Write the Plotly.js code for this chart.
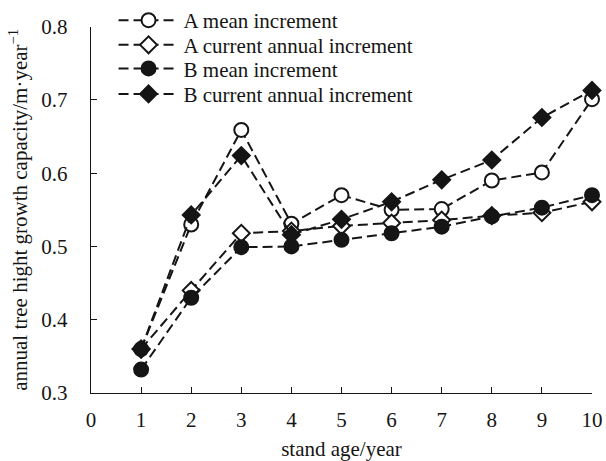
<!DOCTYPE html>
<html>
<head>
<meta charset="utf-8">
<script src="https://cdn.plot.ly/plotly-3.0.1.min.js"></script>
<style>
html,body{margin:0;padding:0;background:#fff;}
#chart{width:606px;height:461px;}
</style>
</head>
<body>
<div id="chart"></div>
<script>
var standAge = [1, 2, 3, 4, 5, 6, 7, 8, 9, 10];
var aMean    = [0.360, 0.530, 0.659, 0.531, 0.570, 0.550, 0.551, 0.590, 0.601, 0.701];
var aCurrent = [0.360, 0.440, 0.518, 0.521, 0.528, 0.532, 0.536, 0.542, 0.546, 0.561];
var bMean    = [0.332, 0.430, 0.499, 0.500, 0.509, 0.518, 0.527, 0.541, 0.553, 0.570];
var bCurrent = [0.360, 0.543, 0.624, 0.516, 0.537, 0.561, 0.591, 0.618, 0.676, 0.713];
var seriesNames = ['A mean increment', 'A current annual increment', 'B mean increment', 'B current annual increment'];
var xTicks = [0, 1, 2, 3, 4, 5, 6, 7, 8, 9, 10];
var yTicks = [0.3, 0.4, 0.5, 0.6, 0.7, 0.8];

var ink = '#151515';
var font = 'Liberation Serif';
var dash = '10px,5px';

function trace(y, name, symbol, fill, legendId) {
  return {
    x: standAge, y: y, name: name, type: 'scatter', mode: 'lines+markers',
    cliponaxis: false, legend: legendId,
    line: {color: ink, width: 2, dash: dash},
    marker: {symbol: symbol, size: symbol === 'circle' ? 14 : 13, color: fill,
             line: {color: ink, width: 2}}
  };
}

var data = [
  trace(aMean, seriesNames[0], 'circle', '#ffffff', 'legend'),
  trace(aCurrent, seriesNames[1], 'diamond', '#ffffff', 'legend2'),
  trace(bMean, seriesNames[2], 'circle', ink, 'legend3'),
  trace(bCurrent, seriesNames[3], 'diamond', ink, 'legend4')
];

function leg(yPaper) {
  return {x: 0.045, y: yPaper, xanchor: 'left', yanchor: 'middle',
          bgcolor: 'rgba(0,0,0,0)', borderwidth: 0,
          font: {family: font, size: 21, color: ink},
          itemwidth: 60};
}

var layout = {
  width: 606, height: 461,
  margin: {l: 91, r: 14, t: 0, b: 68, pad: 0},
  paper_bgcolor: '#ffffff', plot_bgcolor: '#ffffff',
  font: {family: font, size: 21, color: ink},
  showlegend: true,
  legend: leg(0.965),
  legend2: leg(0.901),
  legend3: leg(0.840),
  legend4: leg(0.774),
  xaxis: {
    range: [0, 10], tickvals: xTicks, ticktext: xTicks.map(String),
    ticks: 'inside', ticklen: 6, tickwidth: 1, tickcolor: ink,
    showline: true, linecolor: ink, linewidth: 1.2, showgrid: false, zeroline: false,
    tickfont: {family: font, size: 21, color: ink}, ticklabelstandoff: 8,
    title: {text: 'stand age/year', font: {family: font, size: 21, color: ink}, standoff: 10}
  },
  yaxis: {
    domain: [0, 0.9491],
    range: [0.3, 0.8], tickvals: yTicks, ticktext: yTicks.map(function(v){return v.toFixed(1);}),
    ticks: 'inside', ticklen: 6, tickwidth: 1, tickcolor: ink,
    showline: true, linecolor: ink, linewidth: 1.2, showgrid: false, zeroline: false,
    tickfont: {family: font, size: 21, color: ink}, ticklabelstandoff: 18,
    title: {text: 'annual tree hight growth capacity/m·year<sup>−1</sup>', font: {family: font, size: 21, color: ink}, standoff: 8}
  }
};

Plotly.newPlot('chart', data, layout, {displayModeBar: false, staticPlot: true});
</script>
</body>
</html>
